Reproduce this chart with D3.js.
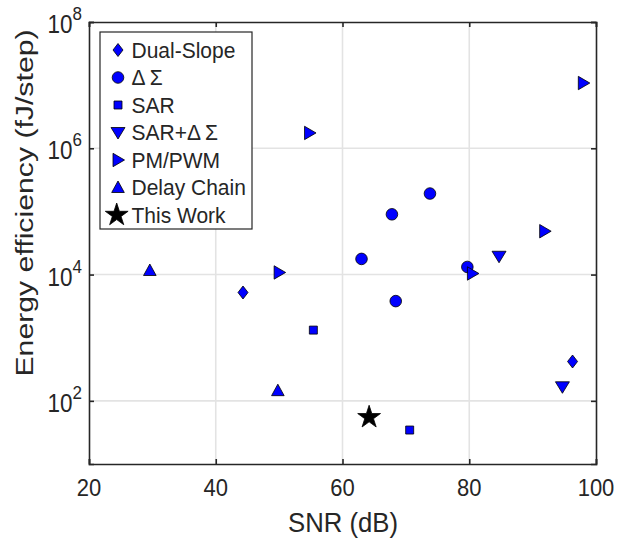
<!DOCTYPE html>
<html>
<head>
<meta charset="utf-8">
<script src="https://cdn.jsdelivr.net/npm/d3@7"></script>
<style>
body { margin: 0; background: #fff; }
text { font-family: "Liberation Sans", Arial, sans-serif; fill: #262626; }
</style>
</head>
<body>
<svg id="chart" width="629" height="538"></svg>
<script>
// values, [SNR dB, fJ/step]
var dualSlope = [[44.3, 5200], [96.3, 420]];
var deltaSigma = [[63.0, 17700], [67.8, 90000], [73.8, 192000], [68.4, 3800], [79.7, 13200]];
var sar = [[55.4, 1320], [70.6, 34.5]];
var sarDeltaSigma = [[84.7, 19500], [94.7, 167]];
var pmPwm = [[98.0, 1.08e7], [54.8, 1.75e6], [91.9, 48600], [50.0, 10800], [80.5, 10400]];
var delayChain = [[29.6, 11600], [49.8, 145]];
var thisWork = [[64.2, 55]];

var seriesNames = ["Dual-Slope", "\u0394\u2009\u03A3", "SAR", "SAR+\u0394\u2009\u03A3", "PM/PWM", "Delay Chain", "This Work"];
var xTicks = [20, 40, 60, 80, 100];
var yTicks = [1e2, 1e4, 1e6, 1e8];

function starPath(R) {
	var r = R * 0.382, p = [];
	for (var i = 0; i < 10; ++i) {
		var a = -Math.PI / 2 + i * Math.PI / 5, rr = i % 2 ? r : R;
		p.push([rr * Math.cos(a), rr * Math.sin(a)]);
	}
	return "M" + p.map(function(d) { return d[0].toFixed(2) + "," + d[1].toFixed(2); }).join("L") + "Z";
}

var shapes = {
	diamond: "M0,-6.5L5,0L0,6.5L-5,0Z",
	circle: d3.symbol(d3.symbolCircle, Math.PI * 5.8 * 5.8)(),
	square: "M-4,-4h8v8h-8Z",
	down: "M-7,-5L7,-5L0,6.5Z",
	right: "M-5,-6.7L6.5,0L-5,6.7Z",
	up: "M-6.3,5L6.3,5L0,-6.5Z",
	star: starPath(12)
};

var series = [
	{ name: seriesNames[0], data: dualSlope, shape: "diamond", fill: "#0000ff" },
	{ name: seriesNames[1], data: deltaSigma, shape: "circle", fill: "#0000ff" },
	{ name: seriesNames[2], data: sar, shape: "square", fill: "#0000ff" },
	{ name: seriesNames[3], data: sarDeltaSigma, shape: "down", fill: "#0000ff" },
	{ name: seriesNames[4], data: pmPwm, shape: "right", fill: "#0000ff" },
	{ name: seriesNames[5], data: delayChain, shape: "up", fill: "#0000ff" },
	{ name: seriesNames[6], data: thisWork, shape: "star", fill: "#000000" }
];

var svg = d3.select("#chart"),
	margin = { top: 22, left: 89, right: 33, bottom: 74 },
	width = 629 - margin.left - margin.right,
	height = 538 - margin.top - margin.bottom;

var x = d3.scaleLinear().domain([20, 100]).range([margin.left, margin.left + width]);
var y = d3.scaleLog().domain([10, 1e8]).range([margin.top + height, margin.top]);

// text in the reference is drawn a little taller than it is wide
var stretch = 1.12;

// grid
var grid = svg.append("g").attr("stroke", "#e3e3e3").attr("stroke-width", 1.6);
grid.selectAll(".gx").data(xTicks.slice(1, -1)).enter().append("line")
	.attr("x1", function(d) { return x(d); }).attr("x2", function(d) { return x(d); })
	.attr("y1", margin.top).attr("y2", margin.top + height);
grid.selectAll(".gy").data(yTicks.slice(0, -1)).enter().append("line")
	.attr("x1", margin.left).attr("x2", margin.left + width)
	.attr("y1", function(d) { return y(d); }).attr("y2", function(d) { return y(d); });

// axes: ticks on all four sides, labels drawn separately
var axisBottom = d3.axisBottom(x).tickValues(xTicks).tickSize(-5).tickFormat("");
var axisTop = d3.axisTop(x).tickValues(xTicks).tickSize(-5).tickFormat("");
var axisLeft = d3.axisLeft(y).tickValues(yTicks).tickSize(-5).tickFormat("");
var axisRight = d3.axisRight(y).tickValues(yTicks).tickSize(-5).tickFormat("");

function styleAxis(g) {
	g.select(".domain").attr("stroke", "#262626").attr("stroke-width", 1.6);
	g.selectAll(".tick line").attr("stroke", "#262626").attr("stroke-width", 1.6);
}

svg.append("g").attr("transform", "translate(0," + (margin.top + height) + ")").call(axisBottom).call(styleAxis);
svg.append("g").attr("transform", "translate(0," + margin.top + ")").call(axisTop).call(styleAxis);
svg.append("g").attr("transform", "translate(" + margin.left + ",0)").call(axisLeft).call(styleAxis);
svg.append("g").attr("transform", "translate(" + (margin.left + width) + ",0)").call(axisRight).call(styleAxis);

// x tick labels
svg.append("g").selectAll("text").data(xTicks).enter().append("text")
	.attr("transform", function(d) { return "translate(" + x(d) + ",496) scale(1," + stretch + ")"; })
	.attr("text-anchor", "middle")
	.attr("font-size", 22)
	.text(function(d) { return d; });

// log tick labels 10^n
var yLab = svg.append("g").selectAll("text").data(yTicks).enter().append("text")
	.attr("transform", function(d) { return "translate(82," + (y(d) + 11) + ") scale(1," + stretch + ")"; })
	.attr("text-anchor", "end")
	.attr("font-size", 22.5);
yLab.append("tspan").text("10");
yLab.append("tspan").attr("dy", -11.5).attr("font-size", 17).text(function(d) { return Math.round(Math.log10(d)); });

// axis titles
svg.append("text").attr("transform", "translate(343,532) scale(1,1.09)").attr("text-anchor", "middle")
	.attr("font-size", 25.7).text("SNR (dB)");
svg.append("text").attr("transform", "translate(33,203) rotate(-90) scale(1.26,1)")
	.attr("text-anchor", "middle").attr("font-size", 24).text("Energy efficiency (fJ/step)");

// markers
var gPts = svg.append("g");
series.forEach(function(s) {
	gPts.selectAll(null).data(s.data).enter().append("path")
		.attr("d", shapes[s.shape])
		.attr("transform", function(d) { return "translate(" + x(d[0]) + "," + y(d[1]) + ")"; })
		.attr("fill", s.fill)
		.attr("stroke", "#000")
		.attr("stroke-width", 0.8);
});

// legend
var legend = svg.append("g").attr("transform", "translate(100,32)");
legend.append("rect").attr("width", 152).attr("height", 197)
	.attr("fill", "#fff").attr("stroke", "#262626").attr("stroke-width", 1.2);
var row = legend.selectAll(".row").data(series).enter().append("g")
	.attr("transform", function(d, i) { return "translate(0," + (18 + i * 27.5) + ")"; });
row.append("path")
	.attr("d", function(d) { return shapes[d.shape]; })
	.attr("transform", function(d) { return "translate(" + (d.shape === "star" ? 16.7 : 18) + ",0)"; })
	.attr("fill", function(d) { return d.fill; })
	.attr("stroke", "#000").attr("stroke-width", 0.8);
row.append("text").attr("transform", "translate(31.5,7.5) scale(1,1.05)").attr("font-size", 21)
	.attr("fill", "#000").text(function(d) { return d.name; });
</script>
</body>
</html>
